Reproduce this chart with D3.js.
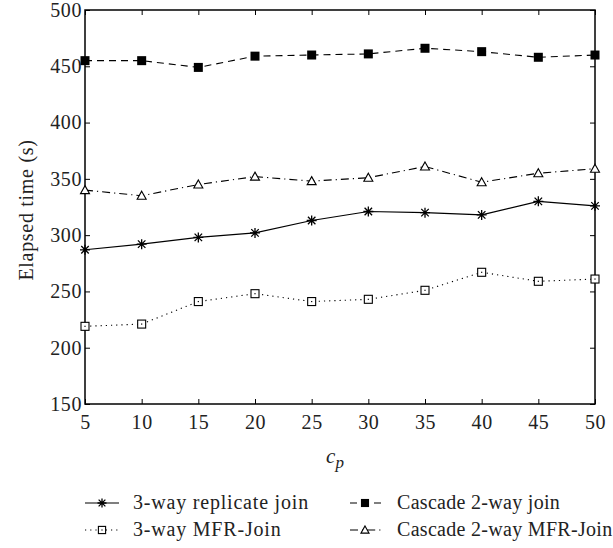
<!DOCTYPE html>
<html>
<head>
<meta charset="utf-8">
<script src="https://cdn.jsdelivr.net/npm/d3@7"></script>
<style>
  body { margin: 0; background: #fff; }
  text { font-family: "Liberation Serif", "DejaVu Serif", serif; fill: #222; }
</style>
</head>
<body>
<script>
// data
var cp = [5, 10, 15, 20, 25, 30, 35, 40, 45, 50];
var replicateJoin = [287, 292, 298, 302, 313, 321, 320, 318, 330, 326];
var mfrJoin = [219, 221, 241, 248, 241, 243, 251, 267, 259, 261];
var cascadeJoin = [455, 455, 449, 459, 460, 461, 466, 463, 458, 460];
var cascadeMfrJoin = [340, 335, 345, 352, 348, 351, 361, 347, 355, 359];
var yTicks = [150, 200, 250, 300, 350, 400, 450, 500];

var svgWidth = 613, svgHeight = 548;
var margin = { top: 10, right: 18, bottom: 144, left: 85 };
var width = svgWidth - margin.left - margin.right;
var height = svgHeight - margin.top - margin.bottom;

var svg = d3.select("body").append("svg")
  .attr("width", svgWidth)
  .attr("height", svgHeight);

var chartGroup = svg.append("g")
  .attr("transform", `translate(${margin.left}, ${margin.top})`);

var x = d3.scaleLinear().domain([5, 50]).range([0, width]);
var y = d3.scaleLinear().domain([150, 500]).range([height, 0]);

// frame
chartGroup.append("rect")
  .attr("width", width).attr("height", height)
  .attr("fill", "none").attr("stroke", "#000").attr("stroke-width", 1.5);

// inward ticks on all sides
var tl = 5;
function ticks(g, axis) {
  g.call(axis);
  g.select(".domain").remove();
  g.selectAll("line").attr("stroke", "#000").attr("stroke-width", 1);
  g.selectAll("text").attr("font-size", 20).attr("fill", "#222")
    .style("letter-spacing", "0.6px")
    .style("font-family", "'Liberation Serif', serif");
}
chartGroup.append("g").attr("transform", `translate(0,${height})`)
  .call(g => ticks(g, d3.axisBottom(x).tickValues(cp).tickSize(-tl).tickPadding(11)));
chartGroup.append("g")
  .call(g => ticks(g, d3.axisTop(x).tickValues(cp).tickSize(-tl).tickFormat("")));
chartGroup.append("g")
  .call(g => ticks(g, d3.axisLeft(y).tickValues(yTicks).tickSize(-tl).tickPadding(3)));
chartGroup.append("g").attr("transform", `translate(${width},0)`)
  .call(g => ticks(g, d3.axisRight(y).tickValues(yTicks).tickSize(-tl).tickFormat("")));

// axis titles
svg.append("text")
  .attr("transform", `translate(33, 210) rotate(-90)`)
  .attr("text-anchor", "middle").attr("font-size", 20)
  .style("letter-spacing", "0.7px")
  .text("Elapsed time (s)");

var xl = svg.append("text")
  .attr("x", 335).attr("y", 463)
  .attr("text-anchor", "middle").attr("font-size", 21).attr("font-style", "italic");
xl.append("tspan").text("c");
xl.append("tspan").attr("dy", 5).attr("font-size", 17).text("p");

// series definitions
var series = [
  { name: "3-way replicate join", values: replicateJoin, dash: null, marker: "star" },
  { name: "Cascade 2-way join", values: cascadeJoin, dash: "7,5", marker: "fsquare" },
  { name: "3-way MFR-Join", values: mfrJoin, dash: "1.2,4", marker: "osquare" },
  { name: "Cascade 2-way MFR-Join", values: cascadeMfrJoin, dash: "8,4,1.2,4", marker: "triangle" }
];

function drawMarker(g, type, k) {
  k = k || 1;
  if (type === "star") {
    var r = 5 * k;
    g.append("path")
      .attr("d", `M${-r},0H${r}M0,${-r}V${r}M${-r*0.75},${-r*0.75}L${r*0.75},${r*0.75}M${-r*0.75},${r*0.75}L${r*0.75},${-r*0.75}`)
      .attr("stroke", "#000").attr("stroke-width", 1.3);
  } else if (type === "fsquare") {
    var s = 4.5 * k;
    g.append("rect").attr("x", -s).attr("y", -s).attr("width", 2 * s).attr("height", 2 * s).attr("fill", "#000");
  } else if (type === "osquare") {
    var o = 4 * k;
    g.append("rect").attr("x", -o).attr("y", -o).attr("width", 2 * o).attr("height", 2 * o)
      .attr("fill", "#fff").attr("stroke", "#000").attr("stroke-width", 1.1);
    g.append("rect").attr("x", -0.6).attr("y", -0.6).attr("width", 1.2).attr("height", 1.2).attr("fill", "#000");
  } else {
    g.append("path").attr("d", `M0,${-4.5*k}L${4.5*k},${3.5*k}H${-4.5*k}Z`)
      .attr("fill", "#fff").attr("stroke", "#000").attr("stroke-width", 1.1);
  }
}

var line = d3.line().x((d, i) => x(cp[i])).y(d => y(d));

series.forEach(function (s) {
  chartGroup.append("path")
    .datum(s.values)
    .attr("d", line)
    .attr("fill", "none").attr("stroke", "#000").attr("stroke-width", 1.1)
    .attr("stroke-dasharray", s.dash);
  chartGroup.selectAll(null)
    .data(s.values)
    .enter().append("g")
    .attr("transform", (d, i) => `translate(${x(cp[i])},${y(d)})`)
    .each(function () { drawMarker(d3.select(this), s.marker); });
});

// legend
var legendPos = [
  { x: 85, y: 503, len: 34, mk: 17, tx: 48, ls: 0.8 },
  { x: 350, y: 503, len: 32, mk: 15, tx: 47, ls: 0.3 },
  { x: 85, y: 530, len: 34, mk: 17, tx: 48, ls: 0.8 },
  { x: 350, y: 530, len: 32, mk: 15, tx: 47, ls: 0.3 }
];
series.forEach(function (s, i) {
  var p = legendPos[i];
  var g = svg.append("g").attr("transform", `translate(${p.x},${p.y})`);
  g.append("line").attr("x1", 0).attr("x2", p.len).attr("y1", 0).attr("y2", 0)
    .attr("stroke", "#000").attr("stroke-width", 1.1).attr("stroke-dasharray", s.dash);
  drawMarker(g.append("g").attr("transform", `translate(${p.mk},0)`), s.marker, 0.9);
  g.append("text").attr("x", p.tx).attr("y", 6).attr("font-size", 20)
    .style("letter-spacing", p.ls + "px").text(s.name);
});
</script>
</body>
</html>
